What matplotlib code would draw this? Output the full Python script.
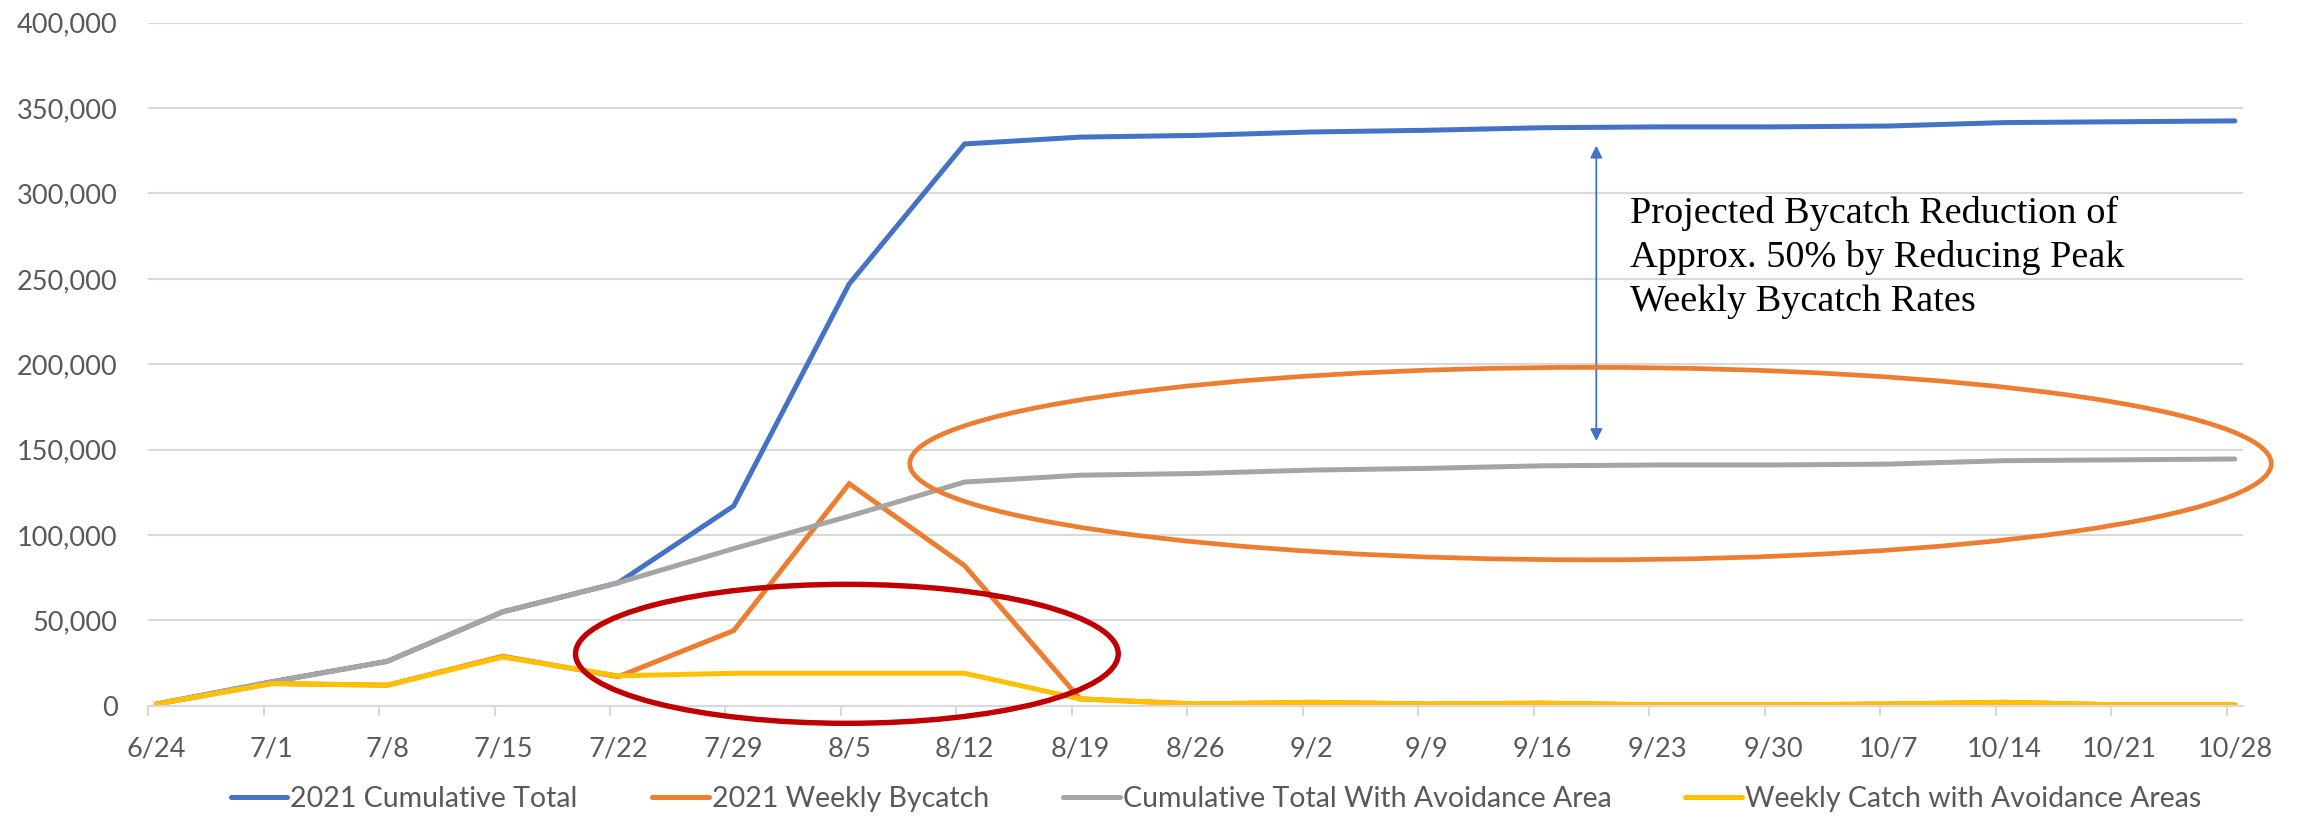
import matplotlib
matplotlib.use('Agg')
import matplotlib.pyplot as plt
from matplotlib.patches import Ellipse
from matplotlib.ticker import FuncFormatter, FixedLocator

# weekly dates on the x axis
dates = ['6/24', '7/1', '7/8', '7/15', '7/22', '7/29', '8/5', '8/12', '8/19', '8/26',
         '9/2', '9/9', '9/16', '9/23', '9/30', '10/7', '10/14', '10/21', '10/28']

cumulative_2021 = [1000, 14000, 26000, 55000, 72000, 117000, 247000, 329000, 333000, 334000,
                   336000, 337000, 338500, 339000, 339000, 339500, 341500, 342000, 342500]
weekly_2021 = [1000, 13000, 12000, 29000, 17000, 44000, 130000, 82000, 4000, 1000,
               2000, 1000, 1500, 500, 500, 1000, 2000, 500, 500]
cumulative_avoid = [1000, 14000, 26000, 55000, 72000, 92000, 111000, 131000, 135000, 136000,
                    138000, 139000, 140500, 141000, 141000, 141500, 143500, 144000, 144500]
weekly_avoid = [1000, 13000, 12000, 28500, 17500, 19000, 19000, 19000, 4000, 1000,
                2000, 1000, 1500, 500, 500, 1000, 2000, 500, 500]

labels = ['2021 Cumulative Total', '2021 Weekly Bycatch',
          'Cumulative Total With Avoidance Area', 'Weekly Catch with Avoidance Areas']
colors = ['#4472C4', '#ED7D31', '#A5A5A5', '#FFC000']

TXT = '#595959'
GRID = '#D9D9D9'
FONT = 'Lato'

fig = plt.figure(figsize=(23.03, 8.17), dpi=100)
ax = fig.add_axes([0.0643, 0.1362, 0.9097, 0.836])

x = list(range(len(dates)))
half = 0.5 / 7  # half a day, in weeks

series = [cumulative_2021, weekly_2021, cumulative_avoid, weekly_avoid]
for ys, lab, c in zip(series, labels, colors):
    ax.plot(x, ys, color=c, lw=3.6, label=lab, solid_capstyle='round', solid_joinstyle='miter')

ax.set_xlim(-half, len(dates) - 1 + half)
ax.set_ylim(0, 400000)
ax.set_yticks(range(0, 400001, 50000))
ax.yaxis.set_major_formatter(FuncFormatter(lambda v, p: f'{int(v):,}'))
ax.set_xticks(x)
ax.set_xticklabels(dates)
ax.xaxis.set_minor_locator(FixedLocator([i - half for i in x]))

ax.grid(axis='y', color=GRID, lw=1.5)
ax.set_axisbelow(True)
for s in ['top', 'right', 'left']:
    ax.spines[s].set_visible(False)
ax.spines['bottom'].set_color(GRID)
ax.spines['bottom'].set_linewidth(1.5)

ax.tick_params(axis='y', length=0, pad=22, labelsize=19.5, labelcolor=TXT)
ax.tick_params(axis='x', which='major', length=0, pad=22, labelsize=19.5, labelcolor=TXT)
ax.tick_params(axis='x', which='minor', length=7, width=1.5, color=GRID)
for t in ax.get_xticklabels() + ax.get_yticklabels():
    t.set_fontfamily(FONT)

# highlight ellipses
ax.add_patch(Ellipse((5.98, 30400), 4.70, 81400, fill=False, ec='#C00000', lw=3.9,
                     zorder=5, clip_on=False))
ax.add_patch(Ellipse((12.42, 141800), 11.79, 112700, fill=False, ec='#ED7D31', lw=3.4,
                     zorder=5, clip_on=False))

# double arrow between the two cumulative curves
ax.annotate('', xy=(12.47, 328000), xytext=(12.47, 155000),
            arrowprops=dict(arrowstyle='<|-|>', color='#4472C4', lw=1.3,
                            mutation_scale=18, shrinkA=0, shrinkB=0))

ax.text(12.76, 298700, 'Projected Bycatch Reduction of\nApprox. 50% by Reducing Peak\nWeekly Bycatch Rates',
        fontfamily='Liberation Serif', fontsize=27.5, color='black', va='top', ha='left',
        linespacing=1.34)

fig.legend(loc='center', bbox_to_anchor=(0.528, 0.022), ncol=4, frameon=False,
           prop={'family': FONT, 'size': 20.5}, labelcolor=TXT, handlelength=2.0,
           handletextpad=0.1, columnspacing=2.6)

fig.savefig('out.png', dpi=100)
